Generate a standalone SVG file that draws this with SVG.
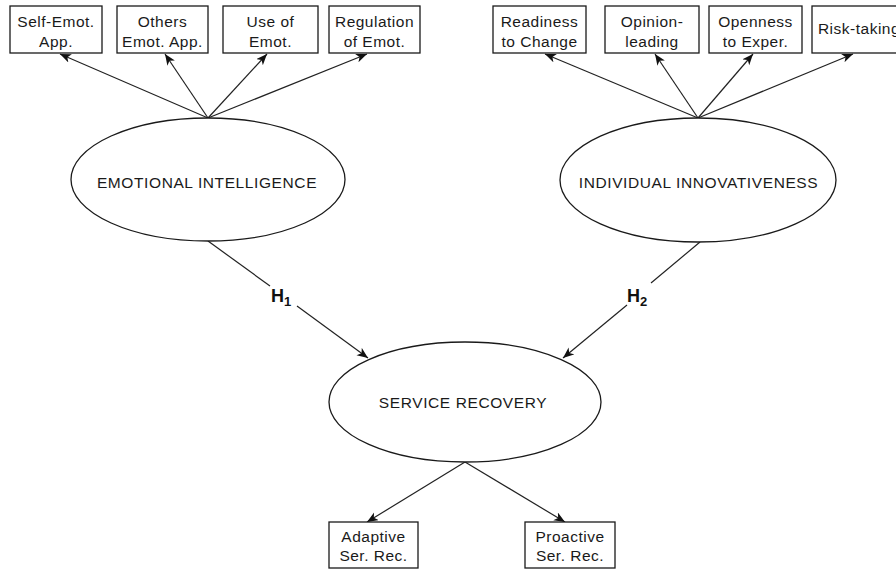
<svg xmlns="http://www.w3.org/2000/svg" width="896" height="570" viewBox="0 0 896 570">
<defs>
<style>
.box{fill:#fff;stroke:#1a1a1a;stroke-width:1.3}
.ell{fill:#fff;stroke:#1a1a1a;stroke-width:1.3}
.t{font-family:"Liberation Sans",Arial,sans-serif;font-size:15.5px;fill:#1a1a1a;text-anchor:middle;letter-spacing:0.5px}
.e{font-family:"Liberation Sans",Arial,sans-serif;font-size:15.5px;fill:#1a1a1a;text-anchor:middle;letter-spacing:0.6px}
.h{font-family:"Liberation Sans",Arial,sans-serif;font-weight:bold;fill:#111}
.c{fill:none;stroke:#222;stroke-width:1.2}
</style>
<marker id="arr" markerUnits="userSpaceOnUse" markerWidth="12" markerHeight="10" refX="11" refY="4.5" orient="auto">
<path d="M0,0 L11,4.5 L0,9 L3,4.5 z" fill="#111"/>
</marker>
</defs>
<rect width="896" height="570" fill="#fff"/>

<g id="connectors">
<line class="c" x1="208" y1="118" x2="60" y2="54" marker-end="url(#arr)"/>
<line class="c" x1="208" y1="118" x2="165" y2="54" marker-end="url(#arr)"/>
<line class="c" x1="208" y1="118" x2="267" y2="54" marker-end="url(#arr)"/>
<line class="c" x1="208" y1="118" x2="367" y2="54" marker-end="url(#arr)"/>
<line class="c" x1="698" y1="118" x2="545" y2="54" marker-end="url(#arr)"/>
<line class="c" x1="698" y1="118" x2="655" y2="54" marker-end="url(#arr)"/>
<line class="c" x1="698" y1="118" x2="753" y2="54" marker-end="url(#arr)"/>
<line class="c" x1="698" y1="118" x2="853" y2="54" marker-end="url(#arr)"/>
<line class="c" x1="208" y1="241" x2="270" y2="286"/>
<line class="c" x1="297" y1="306" x2="368" y2="358" marker-end="url(#arr)"/>
<line class="c" x1="700" y1="242" x2="651" y2="283"/>
<line class="c" x1="627" y1="305" x2="563" y2="358" marker-end="url(#arr)"/>
<line class="c" x1="465" y1="462" x2="367" y2="522" marker-end="url(#arr)"/>
<line class="c" x1="465" y1="462" x2="565" y2="522" marker-end="url(#arr)"/>
<text class="h" x="271" y="302" font-size="18">H<tspan font-size="13" dy="4">1</tspan></text>
<text class="h" x="627" y="302" font-size="18">H<tspan font-size="13" dy="4">2</tspan></text>
</g>

<g id="self-emot">
<rect class="box" x="10" y="6" width="92" height="47"/>
<text class="t" x="56" y="27">Self-Emot.</text>
<text class="t" x="56" y="47">App.</text>
</g>
<g id="others-emot">
<rect class="box" x="117" y="6" width="91" height="47"/>
<text class="t" x="162.5" y="27">Others</text>
<text class="t" x="162.5" y="47">Emot. App.</text>
</g>
<g id="use-emot">
<rect class="box" x="223" y="6" width="95" height="47"/>
<text class="t" x="270.5" y="27">Use of</text>
<text class="t" x="270.5" y="47">Emot.</text>
</g>
<g id="regulation-emot">
<rect class="box" x="329" y="6" width="91" height="47"/>
<text class="t" x="374.5" y="27">Regulation</text>
<text class="t" x="374.5" y="47">of Emot.</text>
</g>

<g id="readiness">
<rect class="box" x="493" y="6" width="93" height="47"/>
<text class="t" x="539.5" y="27">Readiness</text>
<text class="t" x="539.5" y="47">to Change</text>
</g>
<g id="opinion">
<rect class="box" x="605" y="6" width="94" height="47"/>
<text class="t" x="652" y="27">Opinion-</text>
<text class="t" x="652" y="47">leading</text>
</g>
<g id="openness">
<rect class="box" x="709" y="6" width="93" height="47"/>
<text class="t" x="755.5" y="27">Openness</text>
<text class="t" x="755.5" y="47">to Exper.</text>
</g>
<g id="risk">
<rect class="box" x="812" y="6" width="94" height="47"/>
<text class="t" x="859" y="34">Risk-taking</text>
</g>

<g id="emotional-intelligence">
<ellipse class="ell" cx="208" cy="179.5" rx="137" ry="61.5"/>
<text class="e" x="207" y="188">EMOTIONAL INTELLIGENCE</text>
</g>
<g id="individual-innovativeness">
<ellipse class="ell" cx="698" cy="180" rx="138" ry="62"/>
<text class="e" x="698.5" y="188">INDIVIDUAL INNOVATIVENESS</text>
</g>
<g id="service-recovery">
<ellipse class="ell" cx="465" cy="402" rx="136" ry="60"/>
<text class="e" x="463" y="408">SERVICE RECOVERY</text>
</g>

<g id="adaptive">
<rect class="box" x="329" y="522" width="89" height="46"/>
<text class="t" x="373.5" y="542">Adaptive</text>
<text class="t" x="373.5" y="561">Ser. Rec.</text>
</g>
<g id="proactive">
<rect class="box" x="525" y="522" width="90" height="46"/>
<text class="t" x="570" y="542">Proactive</text>
<text class="t" x="570" y="561">Ser. Rec.</text>
</g>
</svg>
